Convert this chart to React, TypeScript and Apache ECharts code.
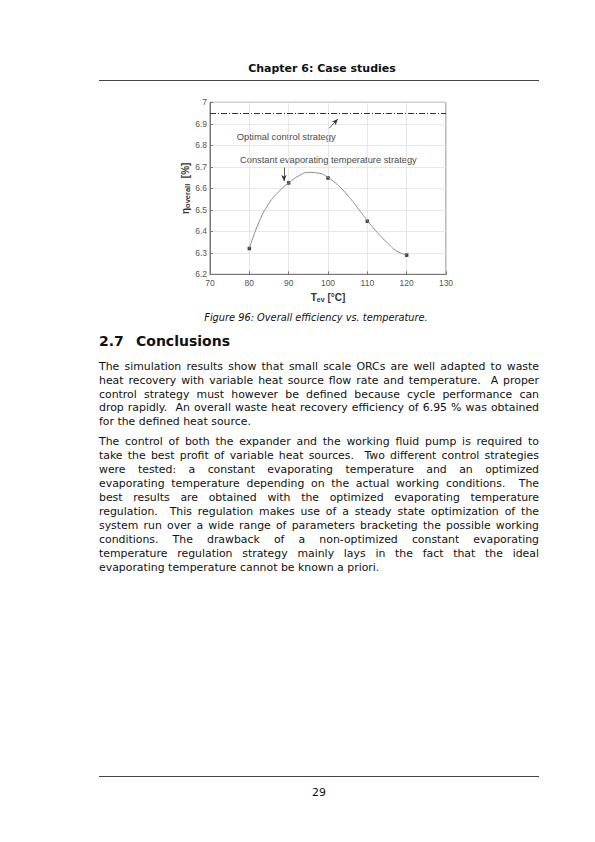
import { useEffect, useRef } from 'react';
import * as echarts from 'echarts';

// measured points (constant evaporating temperature strategy)
const tPoints = [80, 90, 100, 110, 120];
const etaPoints = [6.32, 6.625, 6.648, 6.447, 6.289];

// fitted curve
const tCurve = [80, 82.5, 85, 87.5, 90, 92.5, 95, 97.5, 100, 102.5, 105, 107.5, 110, 112.5, 115, 117.5, 120];
const etaCurve = [6.32, 6.445, 6.53, 6.585, 6.625, 6.657, 6.674, 6.671, 6.65, 6.615, 6.567, 6.51, 6.45, 6.395, 6.348, 6.308, 6.29];

// optimal control strategy level
const etaOptimal = 6.95;

const xTicks = { min: 70, max: 130, step: 10 };
const yTicks = { min: 6.2, max: 7, step: 0.1 };

const para1 = [
  'The simulation results show that small scale ORCs are well adapted to waste',
  'heat recovery with variable heat source flow rate and temperature.  A proper',
  'control strategy must however be defined because cycle performance can',
  'drop rapidly.  An overall waste heat recovery efficiency of 6.95 % was obtained',
  'for the defined heat source.',
];
const para2 = [
  'The control of both the expander and the working fluid pump is required to',
  'take the best profit of variable heat sources.  Two different control strategies',
  'were tested: a constant evaporating temperature and an optimized',
  'evaporating temperature depending on the actual working conditions.  The',
  'best results are obtained with the optimized evaporating temperature',
  'regulation.  This regulation makes use of a steady state optimization of the',
  'system run over a wide range of parameters bracketing the possible working',
  'conditions. The drawback of a non-optimized constant evaporating',
  'temperature regulation strategy mainly lays in the fact that the ideal',
  'evaporating temperature cannot be known a priori.',
];

const FONT = '"DejaVu Sans", sans-serif';
const CHART_FONT = '"Liberation Sans", Arial, sans-serif';

const EfficiencyChart = () => {
  const chartRef = useRef<HTMLDivElement>(null);

  useEffect(() => {
    if (!chartRef.current) return;
    const chart = echarts.init(chartRef.current, null, { renderer: 'svg' });

    chart.setOption({
      animation: false,
      textStyle: { fontFamily: CHART_FONT },
      grid: {
        left: 210, top: 12.3, width: 236, height: 172,
        show: true, borderColor: '#777', borderWidth: 1, backgroundColor: 'transparent',
      },
      xAxis: {
        type: 'value',
        min: xTicks.min, max: xTicks.max, interval: xTicks.step,
        axisLine: { lineStyle: { color: '#777' } },
        axisTick: { inside: true, length: 3, lineStyle: { color: '#777' } },
        axisLabel: { color: '#555', fontSize: 8.5, margin: 4 },
        splitLine: { lineStyle: { color: '#e2e2e2', width: 0.8 } },
        name: '{b|T}{s|ev}{b| [°C]}',
        nameLocation: 'middle',
        nameGap: 17,
        nameTextStyle: {
          rich: {
            b: { fontSize: 10, fontWeight: 'bold', color: '#333', fontFamily: CHART_FONT },
            s: { fontSize: 7, fontWeight: 'bold', color: '#333', fontFamily: CHART_FONT, verticalAlign: 'bottom', padding: [4, 0, 0, 0] },
          },
        },
      },
      yAxis: {
        type: 'value',
        min: yTicks.min, max: yTicks.max, interval: yTicks.step,
        axisLine: { show: true, lineStyle: { color: '#777' } },
        axisTick: { show: true, inside: true, length: 3, lineStyle: { color: '#777' } },
        axisLabel: {
          color: '#555', fontSize: 8.5, margin: 3,
          formatter: (v: number) => (Math.abs(v - 7) < 1e-6 ? '7' : v.toFixed(1)),
        },
        splitLine: { lineStyle: { color: '#e2e2e2', width: 0.8 } },
        name: '{b|η}{s|overall}{b|  [%]}',
        nameLocation: 'middle',
        nameGap: 15,
        nameTextStyle: {
          rich: {
            b: { fontSize: 10, fontWeight: 'bold', color: '#333', fontFamily: CHART_FONT },
            s: { fontSize: 7.5, fontWeight: 'bold', color: '#333', fontFamily: CHART_FONT, padding: [4, 0, 0, 0] },
          },
        },
      },
      series: [
        {
          type: 'line',
          data: tCurve.map((t, i) => [t, etaCurve[i]]),
          smooth: 0.5,
          showSymbol: false,
          lineStyle: { color: '#8c8c8c', width: 1 },
          markLine: {
            silent: true,
            symbol: ['none', 'none'],
            label: { show: false },
            lineStyle: { color: '#333', width: 1, type: [6, 2, 1, 2] },
            data: [{ yAxis: etaOptimal }],
          },
        },
        {
          type: 'line',
          data: [],
          markLine: {
            silent: true,
            symbol: ['none', 'arrow'],
            symbolSize: [4, 6],
            label: { show: false },
            lineStyle: { color: '#333', width: 0.8, type: 'solid' },
            data: [
              [{ coord: [100.3, 6.879] }, { coord: [102.5, 6.922] }],
              [{ coord: [88.8, 6.696] }, { coord: [88.8, 6.634] }],
            ],
          },
        },
        {
          type: 'scatter',
          data: tPoints.map((t, i) => [t, etaPoints[i]]),
          symbol: 'rect',
          symbolSize: 3.5,
          itemStyle: { color: '#111' },
        },
      ],
      graphic: [
        {
          type: 'text', left: 236.7, top: 41.7,
          style: { text: 'Optimal control strategy', fontSize: 9.4, fill: '#4a4a4a', fontFamily: CHART_FONT },
        },
        {
          type: 'text', left: 240, top: 65.7,
          style: { text: 'Constant evaporating temperature strategy', fontSize: 9.3, fill: '#4a4a4a', fontFamily: CHART_FONT },
        },
      ],
    });

    return () => chart.dispose();
  }, []);

  return <div ref={chartRef} style={{ position: 'absolute', left: 0, top: 90, width: 595, height: 220 }} />;
};

const Paragraph = ({ lines, firstCenter, step }: { lines: string[]; firstCenter: number; step: number }) => (
  <>
    {lines.map((line, i) => {
      const last = i === lines.length - 1;
      return (
        <div
          key={i}
          style={{
            position: 'absolute', left: 99, top: firstCenter + i * step - 7, width: 440, height: 14,
            lineHeight: '14px', fontSize: 10.9, fontFamily: FONT, whiteSpace: 'pre',
            textAlign: last ? 'left' : 'justify', textAlignLast: last ? 'left' : 'justify',
            color: '#111',
          }}
        >
          {line}
        </div>
      );
    })}
  </>
);

export default function App() {
  return (
    <div style={{ position: 'absolute', left: 0, top: 0, width: 595, height: 842, background: '#fff', overflow: 'hidden' }}>
      <div style={{ position: 'absolute', left: 99, width: 446, top: 62, lineHeight: '14px', textAlign: 'center', fontFamily: FONT, fontWeight: 'bold', fontSize: 11, color: '#111' }}>
        Chapter 6: Case studies
      </div>
      <div style={{ position: 'absolute', left: 99, top: 79.5, width: 440, height: 1, background: '#444' }} />

      <EfficiencyChart />

      <div style={{ position: 'absolute', left: 0, width: 632, top: 311, lineHeight: '13px', textAlign: 'center', fontFamily: FONT, fontStyle: 'italic', fontSize: 9.8, color: '#111' }}>
        Figure 96: Overall efficiency vs. temperature.
      </div>

      <div style={{ position: 'absolute', left: 99, top: 332, lineHeight: '18px', fontFamily: FONT, fontWeight: 'bold', fontSize: 14, color: '#111' }}>
        2.7
      </div>
      <div style={{ position: 'absolute', left: 136, top: 332, lineHeight: '18px', fontFamily: FONT, fontWeight: 'bold', fontSize: 14, color: '#111' }}>
        Conclusions
      </div>

      <Paragraph lines={para1} firstCenter={367.3} step={13.6} />
      <Paragraph lines={para2} firstCenter={442.3} step={14.0} />

      <div style={{ position: 'absolute', left: 99, top: 775.5, width: 440, height: 1, background: '#444' }} />
      <div style={{ position: 'absolute', left: 269, width: 100, top: 786, lineHeight: '14px', textAlign: 'center', fontFamily: FONT, fontSize: 10.9, color: '#111' }}>
        29
      </div>
    </div>
  );
}
